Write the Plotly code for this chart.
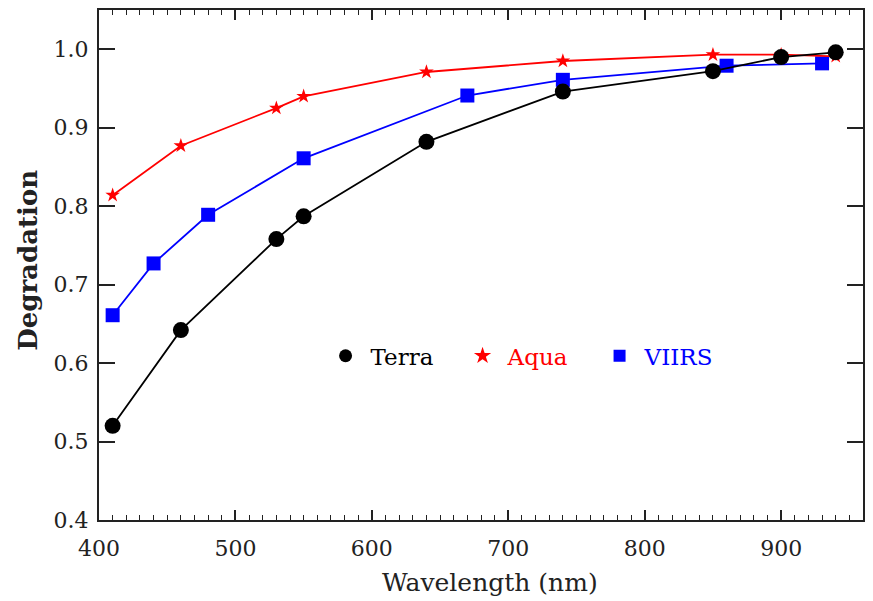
import plotly.graph_objects as go

# Data
terra_wl = [410, 460, 530, 550, 640, 740, 850, 900, 940]
terra_deg = [0.520, 0.642, 0.758, 0.787, 0.882, 0.946, 0.972, 0.990, 0.996]

aqua_wl = [410, 460, 530, 550, 640, 740, 850, 900, 940]
aqua_deg = [0.814, 0.877, 0.925, 0.940, 0.971, 0.985, 0.993, 0.993, 0.991]

viirs_wl = [410, 440, 480, 550, 670, 740, 860, 930]
viirs_deg = [0.661, 0.727, 0.789, 0.861, 0.941, 0.961, 0.979, 0.982]

x_ticks = [400, 500, 600, 700, 800, 900]
y_ticks = [0.4, 0.5, 0.6, 0.7, 0.8, 0.9, 1.0]
y_ticklabels = ["0.4", "0.5", "0.6", "0.7", "0.8", "0.9", "1.0"]

x_title = "Wavelength (nm)"
y_title = "Degradation"

FONT = "DejaVu Serif"

fig = go.Figure()

fig.add_trace(go.Scatter(
    x=viirs_wl, y=viirs_deg, mode="lines+markers", showlegend=False,
    line=dict(color="#0000ff", width=1.8),
    marker=dict(symbol="square", size=14, color="#0000ff")))
fig.add_trace(go.Scatter(
    x=aqua_wl, y=aqua_deg, mode="lines+markers", showlegend=False,
    line=dict(color="#ff0000", width=1.8),
    marker=dict(symbol="star", size=11, color="#ff0000")))
fig.add_trace(go.Scatter(
    x=terra_wl, y=terra_deg, mode="lines+markers", showlegend=False,
    line=dict(color="#000000", width=1.8),
    marker=dict(symbol="circle", size=16, color="#000000")))

# legend-only entries (markers only, coloured text)
fig.add_trace(go.Scatter(x=[None], y=[None], mode="markers",
                         name='<span style="color:#000000">Terra</span>',
                         marker=dict(symbol="circle", size=13, color="#000000")))
fig.add_trace(go.Scatter(x=[None], y=[None], mode="markers",
                         name='<span style="color:#ff0000">Aqua</span>',
                         marker=dict(symbol="star", size=13, color="#ff0000")))
fig.add_trace(go.Scatter(x=[None], y=[None], mode="markers",
                         name='<span style="color:#0000ff">VIIRS</span>',
                         marker=dict(symbol="square", size=12, color="#0000ff")))

axis_common = dict(
    showgrid=False, zeroline=False, showline=True, linecolor="#222222",
    linewidth=2, mirror="ticks", ticks="inside", tickcolor="#222222",
    tickwidth=1.5, tickfont=dict(family=FONT, size=22, color="#222222"),
)

fig.update_xaxes(
    **axis_common, range=[400, 960], tickvals=x_ticks, ticklen=10,
    minor=dict(dtick=10, ticks="inside", ticklen=5, tickcolor="#222222", tickwidth=1.2),
    ticklabelstandoff=8,
)
fig.update_yaxes(
    **axis_common, range=[0.4, 1.05], tickvals=y_ticks, ticktext=y_ticklabels,
    ticklen=16, ticklabelstandoff=4,
)

fig.add_annotation(
    text=x_title, xref="paper", yref="paper", x=0.512, y=-0.122,
    xanchor="center", yanchor="middle", showarrow=False,
    font=dict(family=FONT, size=25, color="#222222"))
fig.add_annotation(
    text="<b>" + y_title + "</b>", xref="paper", yref="paper", x=-0.093, y=0.51,
    xanchor="center", yanchor="middle", showarrow=False, textangle=-90,
    font=dict(family=FONT, size=26, color="#222222"))

fig.update_layout(
    width=873, height=601,
    margin=dict(l=99, r=8, t=8, b=81),
    paper_bgcolor="white", plot_bgcolor="white",
    font=dict(family=FONT, size=22, color="#222222"),
    legend=dict(orientation="h", x=0.29, y=0.322, xanchor="left", yanchor="middle",
                bgcolor="rgba(0,0,0,0)", font=dict(family=FONT, size=23),
                entrywidth=82, entrywidthmode="pixels", itemwidth=40),
)

fig.write_html("out.html", config={"displayModeBar": False})
